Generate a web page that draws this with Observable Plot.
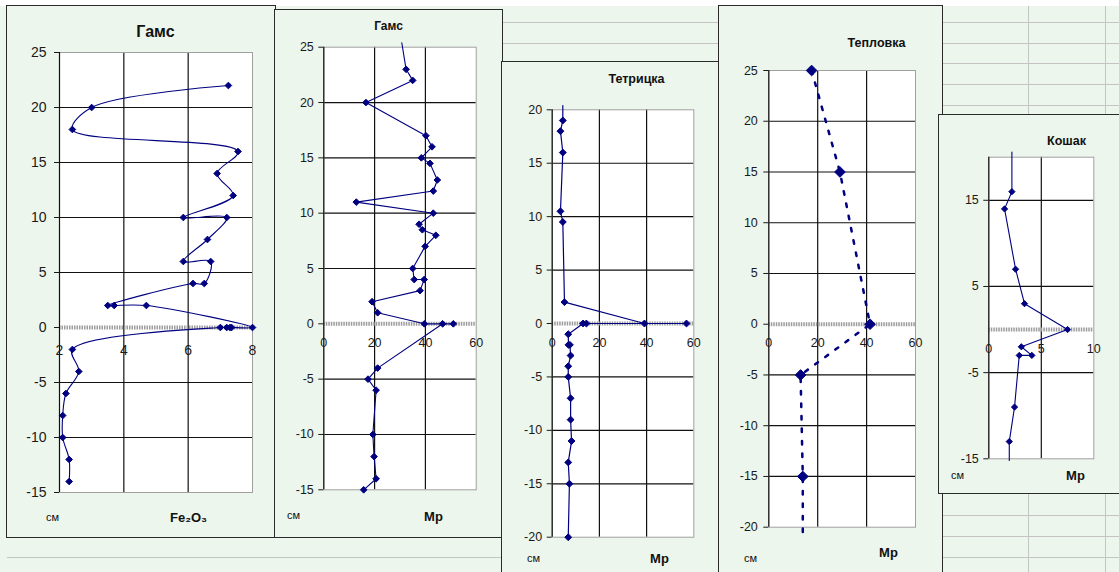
<!DOCTYPE html>
<html><head><meta charset="utf-8">
<script src="https://cdn.jsdelivr.net/npm/d3@7"></script>
<script src="https://cdn.jsdelivr.net/npm/@observablehq/plot@0.6"></script>
<style>
html,body{margin:0;padding:0;width:1119px;height:572px;overflow:hidden;background:#ecf6ec;font-family:Arial,"Liberation Sans",sans-serif;}
#page{position:relative;width:1119px;height:572px;overflow:hidden;background:#ecf6ec;}
.box{position:absolute;background:#ecf6ec;outline:1.3px solid #2a2a2a;}
.box svg{position:absolute;left:0;top:0;}
.hl{position:absolute;height:1px;background:#c4c4c4;}
.vl{position:absolute;width:1px;background:#c4c4c4;}
</style></head>
<body><div id="page"></div>
<script>
// ---------- data ----------
// Гамс (Fe2O3)
const gamsFeDepth = [22, 20, 18, 16, 14, 12, 10, 10, 8, 6, 6, 4, 4, 2, 2, 2, 0, 0, 0, 0, 0, -2, -4, -6, -8, -10, -12, -14];
const gamsFeValue = [7.25, 3.0, 2.4, 7.55, 6.9, 7.4, 5.85, 7.2, 6.6, 5.85, 6.7, 6.5, 6.15, 3.5, 3.7, 4.7, 8.0, 7.35, 7.3, 7.2, 7.0, 2.4, 2.6, 2.2, 2.1, 2.1, 2.3, 2.3];
const gamsFeXTicks = [2, 4, 6, 8];
const gamsFeYTicks = [-15, -10, -5, 0, 5, 10, 15, 20, 25];

// Гамс (Mp)
const gamsMpDepth = [25.4, 23, 22, 20, 17, 16, 15, 14.5, 13, 12, 11, 10, 9, 8.5, 8, 7, 5, 4, 4, 3, 2, 1, 0, 0, 0, -4, -5, -6, -10, -12, -14, -15];
const gamsMpValue = [30.7, 32.4, 35, 16.6, 40.2, 42.6, 38.4, 41.8, 44.7, 43.1, 12.8, 43.1, 37.5, 38.8, 44.1, 39.9, 35, 35.6, 39.5, 37.9, 19, 21.2, 39.6, 51, 46.8, 21.2, 17.4, 20.6, 19.3, 19.8, 20.6, 15.7];
const mpXTicks = [0, 20, 40, 60];
const gamsMpYTicks = [-15, -10, -5, 0, 5, 10, 15, 20, 25];

// Тетрицка (Mp)
const tetDepth = [20.4, 19, 18, 16, 10.5, 9.5, 2, 0, 0, 0, 0, -1, -2, -2, -3, -4, -5, -7, -9, -11, -13, -15, -20];
const tetValue = [4.5, 4.5, 3.5, 4.5, 3.5, 4.5, 5.2, 39.1, 56.9, 14.5, 13.1, 6.8, 6.9, 7.5, 7.8, 6.8, 6.8, 7.8, 7.8, 8.2, 6.8, 7.3, 6.8];
const tetYTicks = [-20, -15, -10, -5, 0, 5, 10, 15, 20];

// Тепловка (Mp)
const teplDepth = [25, 15, 0, -5, -15, -20.6];
const teplValue = [17.5, 29.1, 41.4, 13.0, 13.9, 13.9];
const teplYTicks = [-20, -15, -10, -5, 0, 5, 10, 15, 20, 25];

// Кошак (Mp)
const koshDepth = [20.6, 16, 14, 7, 3, 0, -2, -3, -3, -9, -13, -15.2];
const koshValue = [2.2, 2.2, 1.5, 2.55, 3.4, 7.5, 3.1, 4.1, 2.9, 2.45, 1.95, 1.95];
const koshXTicks = [0, 5, 10];
const koshYTicks = [-15, -5, 5, 15];

// ---------- page background (spreadsheet) ----------
const PAGE = document.getElementById("page");
const FONT = "Arial, 'Liberation Sans', sans-serif";
function el(cls, css) { const d = document.createElement("div"); d.className = cls; Object.assign(d.style, css); PAGE.appendChild(d); return d; }
el("", {position: "absolute", left: "0px", top: "0px", width: "1119px", height: "6px", background: "#ffffff"});
[22, 43, 63, 84, 105, 515, 536, 557].forEach(y => el("hl", {left: "7px", top: y + "px", width: "1112px"}));
[1028, 1105].forEach(x => el("vl", {left: x + "px", top: "6px", height: "566px"}));

// ---------- chart builder ----------
const fmt = d => String(d);
function makeChart(c) {
  const [bx, by, bw, bh] = c.box;
  const [px0, px1, py0, py1] = c.plot;
  const ml = px0 - bx, mr = bx + bw - px1, mt = py0 - by, mb = by + bh - py1;
  const data = c.values.map((v, i) => ({v, d: c.depths[i]}));
  const shown = data.filter(p => p.d >= c.yDomain[0] && p.d <= c.yDomain[1]);
  const lab = (t, pos, o) => Plot.text([t], {
    frameAnchor: "top-left", textAnchor: "middle", lineAnchor: "middle",
    dx: pos[0] - bx - ml, dy: pos[1] - by - mt, text: d => d, fill: "#111", ...o
  });
  const svg = Plot.plot({
    width: bw, height: bh,
    marginLeft: ml, marginRight: mr, marginTop: mt, marginBottom: mb,
    style: {background: "transparent", fontFamily: FONT, overflow: "visible"},
    x: {domain: c.xDomain, axis: null, label: null},
    y: {domain: c.yDomain, label: null},
    marks: [
      Plot.frame({fill: "white", stroke: "none"}),
      Plot.ruleX(c.gridX, {stroke: "#111", strokeWidth: 1.2}),
      Plot.ruleY(c.gridY, {stroke: "#111", strokeWidth: 1.2}),
      Plot.frame({stroke: "#a0a0a0", strokeWidth: 1}),
      Plot.ruleY([0], {stroke: "#9c9c9c", strokeWidth: 4, strokeDasharray: "1.5,1"}),
      Plot.ruleX([c.xDomain[0]], {stroke: "#111", strokeWidth: 1.2}),
      Plot.axisY(c.yTicks, {tickSize: 5, tickPadding: c.tickPad, fontSize: c.fontSize, color: "#1a1a1a", tickFormat: fmt}),
      Plot.text(c.xTicks, {x: d => d, y: d => 0, dy: c.xLabelDy, text: fmt, fontSize: c.fontSize, fill: "#1a1a1a"}),
      Plot.line(data, {x: "v", y: "d", stroke: "#000080", strokeWidth: c.lineWidth, curve: c.curve, strokeDasharray: c.dash}),
      Plot.dot(shown, {x: "v", y: "d", symbol: "diamond2", r: c.r, fill: "#000080", stroke: "#000080", strokeWidth: 1}),
      lab(c.title, c.titlePos, {fontSize: c.titleSize, fontWeight: "bold"}),
      lab("см", c.cmPos, {fontSize: 11}),
      lab(c.unit, c.unitPos, {fontSize: 13, fontWeight: "bold"})
    ]
  });
  const div = el("box", {left: bx + "px", top: by + "px", width: bw + "px", height: bh + "px"});
  div.appendChild(svg);
}

makeChart({
  box: [7, 6, 268, 531], plot: [59, 252, 52, 492],
  xDomain: [2, 8], yDomain: [-15, 25], xTicks: gamsFeXTicks, yTicks: gamsFeYTicks,
  gridX: [4, 6], gridY: [-10, -5, 5, 10, 15, 20],
  depths: gamsFeDepth, values: gamsFeValue, curve: "catmull-rom", lineWidth: 1.1, r: 3,
  fontSize: 14, tickPad: 8, xLabelDy: 23,
  title: "Гамс", titlePos: [155, 31], titleSize: 16,
  cmPos: [52, 517], unit: "Fe₂O₃", unitPos: [188, 517]
});
makeChart({
  box: [275, 10, 227, 527], plot: [323.3, 475.7, 46.7, 489.3],
  xDomain: [0, 60], yDomain: [-15, 25], xTicks: mpXTicks, yTicks: gamsMpYTicks,
  gridX: [20, 40], gridY: [-10, -5, 5, 10, 15, 20],
  depths: gamsMpDepth, values: gamsMpValue, curve: "linear", lineWidth: 1.1, r: 3,
  fontSize: 12.5, tickPad: 5, xLabelDy: 19,
  title: "Гамс", titlePos: [388, 26], titleSize: 12,
  cmPos: [293, 515], unit: "Мр", unitPos: [433, 516]
});
makeChart({
  box: [502, 62, 217, 520], plot: [551.7, 693.3, 109.3, 536.7],
  xDomain: [0, 60], yDomain: [-20, 20], xTicks: mpXTicks, yTicks: tetYTicks,
  gridX: [20, 40], gridY: [-15, -10, -5, 5, 10, 15],
  depths: tetDepth, values: tetValue, curve: "linear", lineWidth: 1.2, r: 3.1,
  fontSize: 12.5, tickPad: 5, xLabelDy: 19,
  title: "Тетрицка", titlePos: [636, 78], titleSize: 12.5,
  cmPos: [533, 558], unit: "Мр", unitPos: [659, 558]
});
makeChart({
  box: [719, 6, 223, 576], plot: [768.3, 915, 70, 526.7],
  xDomain: [0, 60], yDomain: [-20, 25], xTicks: mpXTicks, yTicks: teplYTicks,
  gridX: [20, 40], gridY: [-15, -10, -5, 5, 10, 15, 20],
  depths: teplDepth, values: teplValue, curve: "linear", lineWidth: 2.5, dash: "3.5,9", r: 4.8,
  fontSize: 12.5, tickPad: 6, xLabelDy: 19,
  title: "Тепловка", titlePos: [876, 42], titleSize: 12.5,
  cmPos: [750, 558], unit: "Мр", unitPos: [888, 552]
});
makeChart({
  box: [939, 115, 190, 378], plot: [988.3, 1093.3, 156.7, 458.3],
  xDomain: [0, 10], yDomain: [-15, 20], xTicks: koshXTicks, yTicks: koshYTicks,
  gridX: [5], gridY: [-5, 5, 15],
  depths: koshDepth, values: koshValue, curve: "linear", lineWidth: 1.1, r: 2.8,
  fontSize: 12.5, tickPad: 5, xLabelDy: 19,
  title: "Кошак", titlePos: [1066, 140], titleSize: 12.5,
  cmPos: [957, 475], unit: "Мр", unitPos: [1075, 475]
});
</script>
</body></html>
